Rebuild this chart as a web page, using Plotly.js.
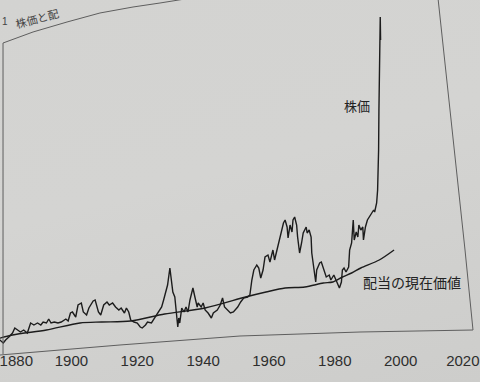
<!DOCTYPE html>
<html>
<head>
<meta charset="utf-8">
<script src="https://cdn.plot.ly/plotly-3.0.1.min.js"></script>
<style>
html,body{margin:0;padding:0;width:480px;height:382px;overflow:hidden;}
body{background:linear-gradient(165deg,#d3d3d1 0%,#d4d4d2 45%,#cdcdcb 100%);}
#chart{width:480px;height:382px;}
</style>
</head>
<body>
<div id="chart"></div>
<script>
const stockYears = [1875.2,1876.9,1877.9,1879.3,1880.0,1881.0,1882.1,1882.8,1883.8,1884.5,1885.5,1886.6,1887.6,1888.6,1889.7,1890.7,1891.4,1892.4,1893.1,1893.8,1894.8,1895.9,1896.9,1898.3,1899.0,1899.7,
1900.3,1901.3,1902.0,1903.0,1903.6,1904.6,1905.3,1906.6,1907.2,1908.2,1908.9,1909.8,1910.8,1911.5,1912.5,1913.4,1914.4,1915.1,1916.1,1916.7,1917.4,1918.0,1919.0,
1920.0,1920.9,1921.5,1922.5,1923.1,1924.3,1925.2,1926.2,1927.4,1928.0,1928.9,1929.2,1929.9,1930.5,1930.8,1931.4,1932.0,1932.3,1932.6,1932.9,1933.5,1934.2,1934.8,1935.4,1936.0,1936.6,1936.9,1937.5,1938.2,1938.5,1939.4,
1940.0,1940.6,1941.5,1942.5,1943.1,1944.3,1945.2,1945.9,1946.5,1947.4,1948.3,1949.2,1950.5,1951.4,1952.3,1953.5,1954.2,1954.8,1955.4,1956.3,1956.9,1957.5,1958.2,1958.8,1959.7,
1960.3,1961.2,1961.7,1962.6,1962.9,1963.8,1964.4,1964.9,1965.5,1965.8,1966.4,1967.0,1967.3,1967.8,1968.4,1968.7,1969.3,1969.9,1970.4,1971.3,1971.6,1972.2,1972.8,1973.0,1973.6,1974.2,1974.5,1975.4,1975.9,1976.8,1977.4,1978.3,1978.8,1979.7,
1980.3,1980.9,1981.4,1982.0,1982.3,1982.8,1983.4,1984.2,1984.5,1985.1,1985.6,1985.9,1986.5,1987.0,1987.3,1987.9,1988.5,1988.7,1989.3,1989.9,1990.4,1991.3,1991.8,1992.1,1992.7,1993.0,1993.2,1993.3,1993.4,1993.5,1993.55,1993.65,1993.7,1993.8,1993.9];
const stockValues = [8,10,11,7,10,13,17,22,20,18,20,17,27,25,27,25,28,27,31,27,28,27,28,31,29,37,
38,33,45,47,38,35,42,49,50,38,35,45,48,45,47,43,40,42,37,42,38,30,28,
27,23,22,25,28,27,32,37,43,50,60,65,82,67,58,53,37,23,32,27,42,38,43,38,50,57,62,53,43,47,43,
47,40,37,32,37,40,45,52,43,40,37,38,43,48,52,53,55,70,80,85,82,72,80,93,95,
88,100,90,103,108,118,127,130,123,112,125,118,130,133,125,113,97,107,117,123,117,120,113,97,82,68,80,87,88,78,73,75,70,75,
70,67,62,68,80,82,78,83,100,107,130,110,118,113,125,120,123,110,123,130,133,138,140,138,147,160,180,200,240,275,265,305,290,333,310];

// Present value of dividends
const pvYears = [1875.2,1882.1,1892.4,1902.6,1909.2,1918.0,1928.3,1940.6,1952.9,1959.1,1964.9,1970.9,1976.5,1979.4,1982.3,1985.1,1987.9,1993.5,1998.0];
const pvValues = [9,15,20,27,28,29,36,42,53,58,62,63,67,68,73,77,82,90,100];

const tickYears = [1880,1900,1920,1940,1960,1980,2000,2020];
const tickLabels = ['1880','1900','1920','1940','1960','1980','2000','2020'];

const W = 480, H = 350;
function px(x){return x/W;}
function py(y){return (H-y)/H;}
function pathOf(pts){return pts.map((p,i)=>(i?'L':'M')+px(p[0]).toFixed(4)+','+py(p[1]).toFixed(4)).join(' ');}

const frameColor = '#5e5e5e';
const shapes = [
  {type:'path', xref:'paper', yref:'paper', path:pathOf([[0,355],[120,345],[240,336],[360,332],[473,330]]), line:{color:frameColor,width:1}},
  {type:'path', xref:'paper', yref:'paper', path:pathOf([[438,-2],[465,250],[473,330]]), line:{color:frameColor,width:1}},
  {type:'path', xref:'paper', yref:'paper', path:pathOf([[3,43],[33,32],[67,22],[100,13],[133,7],[160,3],[185,-1]]), line:{color:frameColor,width:1}},
  {type:'path', xref:'paper', yref:'paper', path:pathOf([[3,43],[3,354]]), line:{color:frameColor,width:1}}
];

const xRange = [1878.3, 2024.1];
const lastIdx = tickYears.length - 1;
const midVals = tickYears.slice(1, lastIdx), midText = tickLabels.slice(1, lastIdx);

const traces = [
  {x:stockYears, y:stockValues, type:'scatter', mode:'lines', line:{color:'#1c1c1c', width:1.4}, hoverinfo:'skip'},
  {x:pvYears, y:pvValues, type:'scatter', mode:'lines', xaxis:'x2', line:{color:'#1c1c1c', width:1.4, shape:'spline', smoothing:0.8}, hoverinfo:'skip'},
  {x:[], y:[], type:'scatter', mode:'lines', xaxis:'x3', hoverinfo:'skip'}
];

const tickFont = {family:'Liberation Sans, Arial, sans-serif', size:15, color:'#2e2e2e'};
const baseAxis = {range:xRange, showgrid:false, zeroline:false, showline:false, ticks:'', automargin:false, ticklabeloverflow:'allow', tickfont:tickFont, fixedrange:true};

const ann = (text, x, y, size, extra) => Object.assign({text:text, xref:'paper', yref:'paper', x:px(x), y:py(y), xanchor:'center', yanchor:'middle', showarrow:false,
  font:{family:'Noto Sans CJK JP', size:size, color:'#222'}}, extra||{});

const layout = {
  width:480, height:382, autosize:false,
  margin:{l:0,r:0,t:0,b:32,pad:0},
  paper_bgcolor:'rgba(0,0,0,0)', plot_bgcolor:'rgba(0,0,0,0)',
  showlegend:false,
  xaxis:Object.assign({}, baseAxis, {tickvals:midVals, ticktext:midText}),
  xaxis2:Object.assign({}, baseAxis, {overlaying:'x', matches:'x', anchor:'y', side:'bottom', tickvals:[tickYears[0]], ticktext:[tickLabels[0]], ticklabelposition:'outside right', ticklabelshift:-6}),
  xaxis3:Object.assign({}, baseAxis, {overlaying:'x', matches:'x', anchor:'y', side:'bottom', tickvals:[tickYears[lastIdx]], ticktext:[tickLabels[lastIdx]], ticklabelposition:'outside left', ticklabelshift:13}),
  yaxis:{range:[0,350], visible:false, fixedrange:true},
  shapes:shapes,
  annotations:[
    ann('株価', 357, 105, 13),
    ann('配当の現在価値', 412, 282, 14),
    ann('1', 5, 21, 10, {font:{family:'Liberation Sans', size:10, color:'#444'}}),
    ann('株価と配', 37, 18, 11, {textangle:-15, font:{family:'Noto Sans CJK JP', size:11, color:'#444'}})
  ]
};

Plotly.newPlot('chart', traces, layout, {staticPlot:true, displayModeBar:false});
</script>
</body>
</html>
